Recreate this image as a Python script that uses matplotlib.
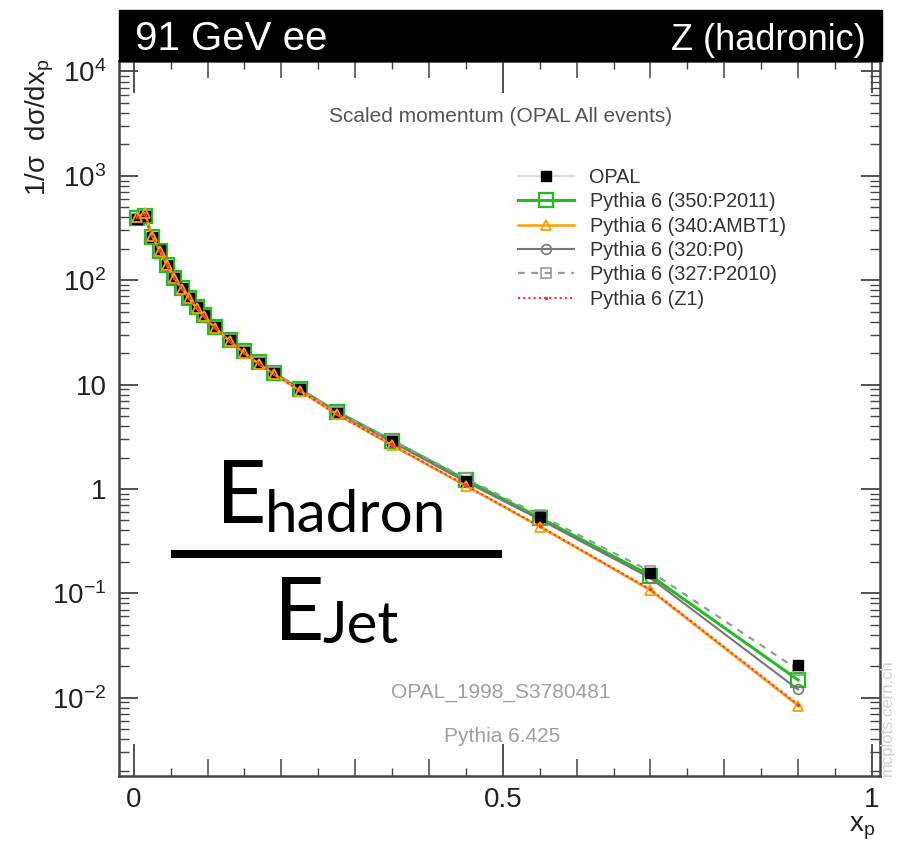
import numpy as np
import matplotlib
matplotlib.use("Agg")
import matplotlib.pyplot as plt
from matplotlib.lines import Line2D
from matplotlib.patches import Rectangle
from matplotlib.ticker import LogLocator, NullFormatter, MultipleLocator

plt.rcParams["font.family"] = ["Liberation Sans", "DejaVu Sans"]
plt.rcParams["mathtext.fontset"] = "custom"
plt.rcParams["mathtext.rm"] = "Liberation Sans"
plt.rcParams["mathtext.it"] = "Liberation Sans:italic"

# scaled momentum bin centres
xp = [0.005, 0.015, 0.025, 0.035, 0.045, 0.055, 0.065, 0.075, 0.085, 0.095,
      0.11, 0.13, 0.15, 0.17, 0.19, 0.225, 0.275, 0.35, 0.45, 0.55, 0.70, 0.90]

# 1/sigma dsigma/dx_p
opal = [390, 415, 257, 193, 139, 105, 84, 67, 55, 46,
        35.7, 26.8, 20.6, 16.2, 13.0, 9.0, 5.4, 2.85, 1.20, 0.54, 0.155, 0.0205]
p2011 = [395, 410, 262, 190, 140, 106, 84, 68, 55, 46,
         36.0, 27.0, 20.8, 16.3, 13.0, 9.0, 5.5, 2.90, 1.22, 0.53, 0.148, 0.0148]
ambt1 = [405, 440, 265, 192, 140, 105, 83, 67, 54, 45,
         35.0, 26.0, 20.0, 15.7, 12.6, 8.7, 5.2, 2.62, 1.07, 0.435, 0.107, 0.0084]
p0 = [392, 420, 258, 190, 139, 105, 84, 67, 55, 46,
      35.5, 26.7, 20.5, 16.0, 12.9, 8.9, 5.4, 2.82, 1.17, 0.51, 0.140, 0.0120]
p2010 = [388, 418, 255, 190, 138, 104, 83, 67, 55, 46,
         35.6, 27.0, 20.8, 16.3, 13.1, 9.1, 5.5, 2.92, 1.26, 0.56, 0.162, 0.0185]
z1 = [400, 435, 263, 191, 139, 105, 83, 67, 54, 45,
      35.0, 26.0, 20.0, 15.8, 12.6, 8.7, 5.2, 2.64, 1.08, 0.44, 0.109, 0.0086]

labels = ["OPAL", "Pythia 6 (350:P2011)", "Pythia 6 (340:AMBT1)",
          "Pythia 6 (320:P0)", "Pythia 6 (327:P2010)", "Pythia 6 (Z1)"]
y_ticks = [1e-2, 1e-1, 1, 10, 1e2, 1e3, 1e4]
y_ticklabels = ["$10^{-2}$", "$10^{-1}$", "1", "10", "$10^{2}$", "$10^{3}$", "$10^{4}$"]
x_ticks = [0, 0.5, 1]
x_ticklabels = ["0", "0.5", "1"]

W, H = 898, 844


def fx(px):
    return px / W


def fy(py):
    return 1 - py / H


fig = plt.figure(figsize=(W / 100, H / 100), dpi=100)
ax = fig.add_axes([fx(119), fy(776), 761 / W, 715 / H])

green = "#1fbf1f"
orange = "#ffa000"
grey = "#777777"
lgrey = "#9a9a9a"
red = "#ff3030"

l_p2011, = ax.plot(xp, p2011, color=green, lw=2.2, marker="s", ms=10.5,
                   mfc="none", mec=green, mew=1.6, zorder=2)
l_p0, = ax.plot(xp, p0, color=grey, lw=1.5, marker="o", ms=7,
                mfc="none", mec=grey, mew=1.2, zorder=3)
l_p2010, = ax.plot(xp, p2010, color=lgrey, lw=1.6, ls=(0, (3, 3)), marker="s",
                   ms=7, mfc="none", mec=lgrey, mew=1.2, zorder=3)
ax.plot(xp, opal, ls="none", marker="s", ms=7, color="black", zorder=4)
l_ambt1, = ax.plot(xp, ambt1, color=orange, lw=1.8, marker="^", ms=7,
                   mfc="none", mec=orange, mew=1.3, zorder=5)
l_z1, = ax.plot(xp, z1, color=red, lw=1.5, ls=(0, (1, 1.5)), marker=".",
                ms=3, zorder=6)

opal_handle = Line2D([], [], color="#dddddd", lw=1.5, marker="s", ms=7,
                     mfc="black", mec="black")
leg = ax.legend([opal_handle, l_p2011, l_ambt1, l_p0, l_p2010, l_z1], labels,
                loc="upper left", bbox_to_anchor=(fx(518), fy(168)),
                bbox_transform=fig.transFigure, frameon=False, fontsize=14.3,
                handlelength=2.8, handletextpad=0.8, labelspacing=0.27,
                borderpad=0, borderaxespad=0)
for t in leg.get_texts():
    t.set_color("#333333")

ax.set_yscale("log")
ax.set_xlim(-0.02, 1.011)
ax.set_ylim(10 ** -2.75, 10 ** 4.1)

ax.set_xticks(x_ticks)
ax.set_xticklabels(x_ticklabels)
ax.xaxis.set_minor_locator(MultipleLocator(0.1))
ax.set_yticks(y_ticks)
ax.set_yticklabels(y_ticklabels)
ax.yaxis.set_minor_locator(LogLocator(base=10, subs=np.arange(2, 10)))
ax.yaxis.set_minor_formatter(NullFormatter())

ax.tick_params(axis="x", which="major", direction="in", length=23, width=1.3,
               top=True, labelsize=20, pad=8, colors="#444444", labelcolor="#222222")
ax.tick_params(axis="x", which="minor", direction="in", length=12, width=1.1,
               top=True, colors="#444444")
ax.tick_params(axis="y", which="major", direction="in", length=14, width=1.3,
               right=True, labelsize=20, pad=9, colors="#444444", labelcolor="#222222")
ax.tick_params(axis="y", which="minor", direction="in", length=7, width=1.0,
               right=True, colors="#444444")

# extra half-step ticks on the x axis
for side in ("bottom", "top"):
    sec = ax.secondary_xaxis(side)
    sec.set_xticks(np.arange(0.05, 1.0, 0.1))
    sec.tick_params(direction="in", length=6, width=1.0, colors="#444444",
                    labelbottom=False, labeltop=False)
    for s in sec.spines.values():
        s.set_visible(False)

for s in ax.spines.values():
    s.set_color("#444444")
    s.set_linewidth(1.8)

# header bar
fig.patches.append(Rectangle((fx(119), fy(61)), 763 / W, 51 / H,
                             transform=fig.transFigure, color="black", zorder=0))
fig.text(fx(135), fy(50), "91 GeV ee", color="white", fontsize=29, va="baseline")
fig.text(fx(866), fy(50), "Z (hadronic)", color="white", fontsize=26,
         va="baseline", ha="right")

fig.text(fx(501), fy(117), "Scaled momentum (OPAL All events)", fontsize=15,
         color="#555555", ha="center", va="center")
fig.text(fx(501), fy(693), "OPAL_1998_S3780481", fontsize=15, color="#a0a0a0",
         ha="center", va="center")
fig.text(fx(502), fy(737), "Pythia 6.425", fontsize=15, color="#a0a0a0",
         ha="center", va="center")
fig.text(fx(887), fy(776), "mcplots.cern.ch", fontsize=12, color="#d0d0d0",
         rotation=90, ha="center", va="bottom")

fig.text(fx(40), fy(58), "1/σ  dσ/dx$_{\\rm p}$", fontsize=20, rotation=90,
         ha="center", va="top", color="#222222")
fig.text(fx(862), fy(828), "x$_{\\rm p}$", fontsize=20, ha="center",
         va="center", color="#222222")

# E_hadron / E_Jet
fig.text(fx(216), fy(523), "E", fontsize=63, family="Lato", va="baseline")
fig.text(fx(265), fy(532), "hadron", fontsize=42, family="Lato", va="baseline")
fig.add_artist(Line2D([fx(175), fx(498)], [fy(554), fy(554)], color="black",
                      lw=5.8, transform=fig.transFigure))
fig.text(fx(274), fy(640), "E", fontsize=63, family="Lato", va="baseline")
fig.text(fx(322), fy(643), "Jet", fontsize=42, family="Lato", va="baseline")

fig.savefig("out.png", dpi=100)
